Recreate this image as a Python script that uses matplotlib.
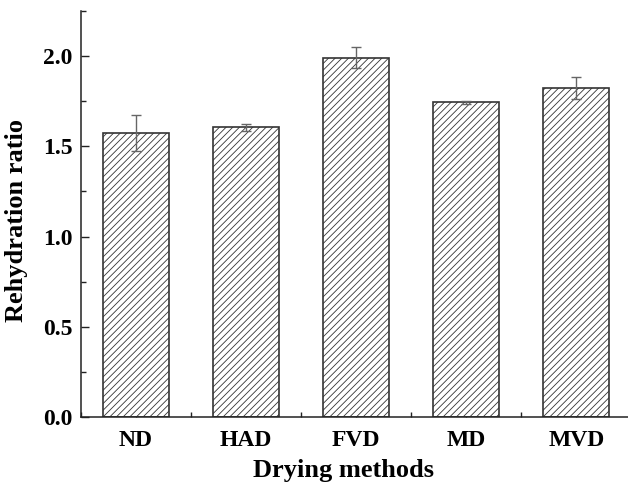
import matplotlib
matplotlib.use("Agg")
import matplotlib.pyplot as plt
from matplotlib.ticker import MultipleLocator

categories = ["ND", "HAD", "FVD", "MD", "MVD"]
values = [1.575, 1.605, 1.992, 1.743, 1.824]
errors = [0.10, 0.02, 0.06, 0.008, 0.06]

plt.rcParams['font.family'] = ['Liberation Serif', 'DejaVu Serif']
plt.rcParams['font.weight'] = 'bold'
plt.rcParams['hatch.linewidth'] = 0.6
plt.rcParams['hatch.color'] = '#444444'

fig = plt.figure(figsize=(6.28, 4.83), dpi=100)
ax = fig.add_axes([81/628, 1-417/483, (628-81)/628, (417-11)/483])

x = list(range(len(categories)))
ax.bar(x, values, width=0.6, color='white', edgecolor='#333333', linewidth=1.2,
       hatch='/////', zorder=2)
ax.errorbar(x, values, yerr=errors, fmt='none', ecolor='#666666', elinewidth=1.0,
            capsize=3.5, capthick=1.0, zorder=3)

ax.set_xlim(-0.5, 4.47)
ax.set_ylim(0, 2.25)
ax.set_xticks(x)
ax.set_xticklabels(categories)
ax.xaxis.set_minor_locator(MultipleLocator(1.0, offset=0.5))
ax.yaxis.set_major_locator(MultipleLocator(0.5))
ax.yaxis.set_minor_locator(MultipleLocator(0.25))
ax.yaxis.set_major_formatter(matplotlib.ticker.FormatStrFormatter('%.1f'))

for s in ['top', 'right']:
    ax.spines[s].set_visible(False)
for s in ['left', 'bottom']:
    ax.spines[s].set_linewidth(1.1)
    ax.spines[s].set_color('#222222')

ax.tick_params(axis='both', which='major', direction='in', length=6, width=1.0,
               labelsize=17, colors='#222222', labelcolor='black')
ax.tick_params(axis='both', which='minor', direction='in', length=3.5, width=1.0,
               colors='#222222')
ax.tick_params(axis='y', which='major', pad=6)
ax.tick_params(axis='x', which='major', pad=9)

ax.set_xlabel("Drying methods", fontsize=19, fontweight='bold')
ax.xaxis.set_label_coords(0.48, -0.103)
ax.set_ylabel("Rehydration ratio", fontsize=19, fontweight='bold')
ax.yaxis.set_label_coords(-0.097, 0.485)

fig.savefig("out.png", dpi=100, facecolor='white')
